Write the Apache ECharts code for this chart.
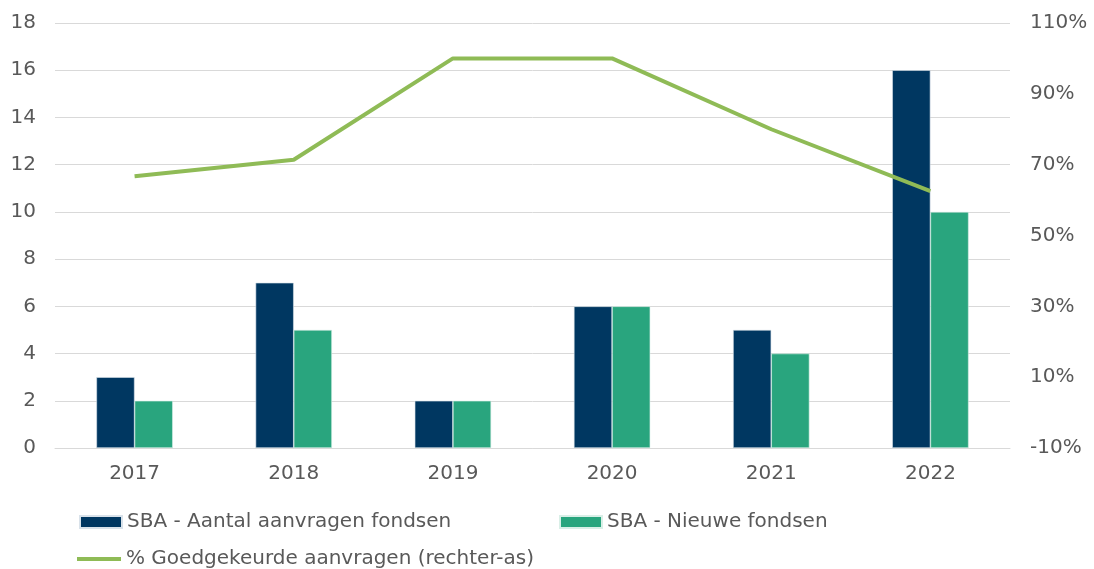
<!DOCTYPE html>
<html>
<head>
<meta charset="utf-8">
<script src="https://cdn.jsdelivr.net/npm/echarts@6/dist/echarts.min.js"></script>
<style>
    html, body { margin: 0; padding: 0; background: #fff; }
    #main { width: 1094px; height: 569px; }
</style>
</head>
<body>
<div id="main"></div>
<script>
var years = ['2017', '2018', '2019', '2020', '2021', '2022'];
var aanvragen = [3, 7, 2, 6, 5, 16];
var nieuwe = [2, 5, 2, 6, 4, 10];
var goedgekeurd = [66.7, 71.4, 100, 100, 80, 62.5];

var names = ['SBA - Aantal aanvragen fondsen', 'SBA - Nieuwe fondsen', '% Goedgekeurde aanvragen (rechter-as)'];
var font = "'DejaVu Sans', sans-serif";
var textColor = '#595959';

var chart = echarts.init(document.getElementById('main'));

var legendBase = {
    orient: 'horizontal',
    icon: 'rect',
    itemWidth: 42,
    itemHeight: 12,
    padding: 0,
    textStyle: {color: textColor, fontSize: 20, fontFamily: font},
    selectedMode: false
};

var option = {
    animation: false,
    grid: {left: 55, right: 84, top: 23, bottom: 121},
    legend: [
        Object.assign({}, legendBase, {data: [names[0]], left: 79, top: 512}),
        Object.assign({}, legendBase, {data: [names[1]], left: 559, top: 512}),
        Object.assign({}, legendBase, {data: [names[2]], left: 77, top: 549, itemWidth: 44, itemHeight: 4})
    ],
    xAxis: {
        type: 'category',
        data: years,
        axisLine: {lineStyle: {color: '#d9d9d9', width: 1}},
        axisTick: {show: false},
        axisLabel: {color: textColor, fontSize: 20, fontFamily: font, margin: 16}
    },
    yAxis: [{
        type: 'value',
        min: 0,
        max: 18,
        interval: 2,
        axisLine: {show: false},
        axisTick: {show: false},
        splitLine: {lineStyle: {color: '#d9d9d9', width: 1}},
        axisLabel: {color: textColor, fontSize: 20, fontFamily: font, margin: 19}
    }, {
        type: 'value',
        min: -10,
        max: 110,
        interval: 20,
        axisLine: {show: false},
        axisTick: {show: false},
        splitLine: {show: false},
        axisLabel: {color: textColor, fontSize: 20, fontFamily: font, margin: 20, formatter: '{value}%'}
    }],
    series: [{
        name: names[0],
        type: 'bar',
        data: aanvragen,
        barWidth: '24%',
        barGap: '0%',
        itemStyle: {color: '#003761', borderColor: '#d9e2ea', borderWidth: 0.6}
    }, {
        name: names[1],
        type: 'bar',
        data: nieuwe,
        barWidth: '24%',
        barGap: '0%',
        itemStyle: {color: '#29a57e', borderColor: '#d9efe7', borderWidth: 0.6}
    }, {
        name: names[2],
        type: 'line',
        yAxisIndex: 1,
        data: goedgekeurd,
        symbol: 'none',
        lineStyle: {color: '#8fbb56', width: 4},
        itemStyle: {color: '#8fbb56'}
    }]
};

chart.setOption(option);
</script>
</body>
</html>
